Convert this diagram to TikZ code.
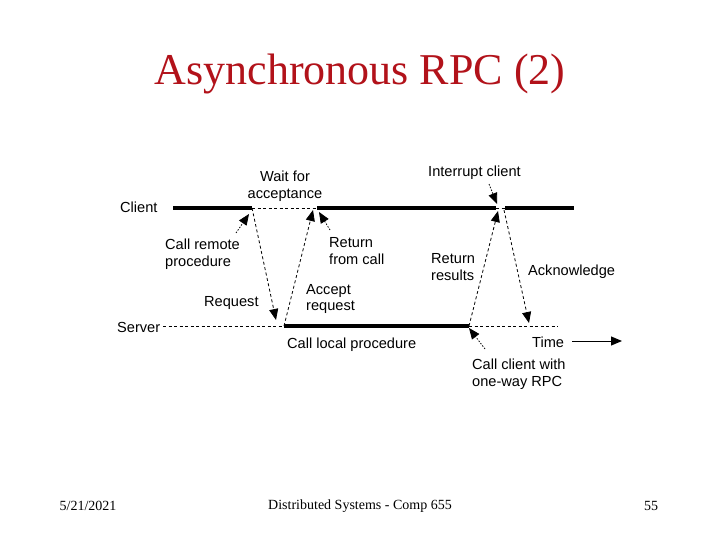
\documentclass[tikz,border=0pt]{standalone}
\usepackage{fontspec}
\setmainfont{Liberation Serif}
\newfontfamily\diagfont{Liberation Sans}
\usetikzlibrary{arrows.meta}
\definecolor{titlered}{RGB}{178,18,26}
\begin{document}
\begin{tikzpicture}[x=1pt,y=-1pt,
  lbl/.style={font=\diagfont\fontsize{14.6}{16.5}\selectfont, inner sep=0pt, align=left, anchor=west},
  foot/.style={font=\fontsize{14}{16}\selectfont, inner sep=0pt},
  timeline/.style={line width=4pt},
  dline/.style={line width=0.8pt, dash pattern=on 3pt off 2.5pt},
  msg/.style={line width=0.8pt, dash pattern=on 3pt off 2.5pt, -{Triangle[length=11pt,width=9pt]}},
  ptr/.style={line width=0.8pt, dash pattern=on 1.5pt off 1.5pt, -{Triangle[length=11pt,width=9pt]}},
]
\useasboundingbox (0,0) rectangle (720,540);
\fill[white] (0,0) rectangle (720,540);

% title and footer
\node[font=\fontsize{44}{48}\selectfont, text=titlered, inner sep=0pt] (title) at (360,74) {Asynchronous RPC (2)};
\node[foot] (date) at (88,506) {5/21/2021};
\node[foot] (course) at (360,506) {Distributed Systems - Comp 655};
\node[foot] (page) at (651,506) {55};

% time line points
\coordinate (c1) at (173,208);
\coordinate (c2) at (252,208);
\coordinate (c3) at (317,208);
\coordinate (c4) at (496,208);
\coordinate (c5) at (505,208);
\coordinate (c6) at (574,208);
\coordinate (s0) at (163,326);
\coordinate (s1) at (284,326);
\coordinate (s2) at (469,326);
\coordinate (s3) at (558,326);

\draw[timeline] (c1) -- (c2);
\draw[timeline] (c3) -- (c4);
\draw[timeline] (c5) -- (c6);
\draw[dline] (c2) -- (c3);
\draw[dline] (c4) -- (c5);
\draw[timeline] (s1) -- (s2);
\draw[dline] (s0) -- (s1);
\draw[dline] (s2) -- (s3);

% message end points
\coordinate (reqend) at (276,320);
\coordinate (accend) at (313,210);
\coordinate (resend) at (498,211);
\coordinate (ackstart) at (504,210);
\coordinate (ackend) at (529,323);
\draw[msg] (c2) -- (reqend);
\draw[msg] (s1) -- (accend);
\draw[msg] (s2) -- (resend);
\draw[msg] (ackstart) -- (ackend);

% pointer arrows
\coordinate (crtail) at (236,233);
\coordinate (crtip) at (249,214);
\coordinate (rftail) at (330,230);
\coordinate (rftip) at (319,212);
\coordinate (ictail) at (489,184);
\coordinate (ictip) at (497,204);
\coordinate (cctail) at (485,349);
\coordinate (cctip) at (469,328);
\draw[ptr] (crtail) -- (crtip);
\draw[ptr] (rftail) -- (rftip);
\draw[ptr] (ictail) -- (ictip);
\draw[ptr] (cctail) -- (cctip);

% time arrow
\coordinate (t0) at (572,341);
\coordinate (t1) at (622,341);
\draw[line width=1pt, -{Triangle[length=11pt,width=9pt]}] (t0) -- (t1);

% labels
\node[lbl] (client) at (120,207) {Client};
\node[lbl] (server) at (117,327) {Server};
\node[lbl, align=center, anchor=center] (wait) at (285,186) {Wait for\\acceptance};
\node[lbl] (intr) at (428,173) {Interrupt client};
\node[lbl] (callrem) at (165,254) {Call remote\\procedure};
\node[lbl] (retcall) at (329,251) {Return\\from call};
\node[lbl] (retres) at (431,267) {Return\\results};
\node[lbl] (ack) at (528,272) {Acknowledge};
\node[lbl] (req) at (204,303) {Request};
\node[lbl] (accept) at (306,299) {Accept\\request};
\node[lbl] (local) at (287,345) {Call local procedure};
\node[lbl] (time) at (532,342) {Time};
\node[lbl] (oneway) at (472,374) {Call client with\\one-way RPC};
\end{tikzpicture}
\end{document}
